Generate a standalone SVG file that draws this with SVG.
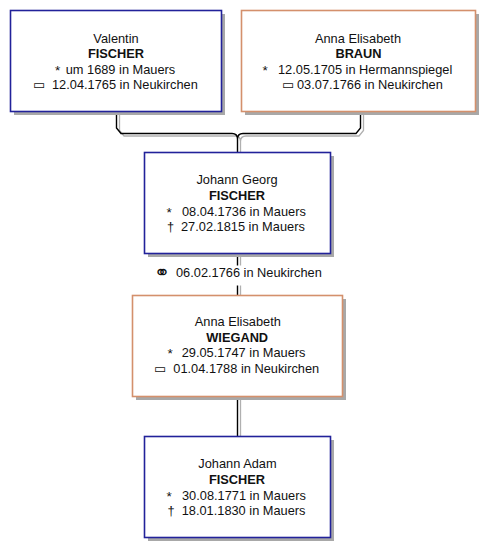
<svg xmlns="http://www.w3.org/2000/svg" width="495" height="558" viewBox="0 0 495 558">
<style>
text{font-family:"Liberation Sans",Arial,"DejaVu Sans",sans-serif;font-size:12.8px;fill:#111}
.c{text-anchor:middle}
.b{font-weight:bold}
.sym{font-family:"DejaVu Sans","Liberation Sans",sans-serif;font-size:13px}
.mar{font-family:"DejaVu Sans",sans-serif;font-size:19px}
.ast{font-size:13.5px}
.shadow{fill:#a8a8a8}
.box{fill:#fff;stroke-width:1.6}
.m{stroke:#22229a}
.f{stroke:#d4906c}
.ln{fill:none;stroke:#000;stroke-width:1.4}
.lg{fill:none;stroke:#b0b0b0;stroke-width:1.3}
</style>
<rect width="495" height="558" fill="#fff"/>
<g id="connectors">
<path class="lg" d="M119.5,112 V130.5 L124,136 H235 Q240.5,136 240.5,141.5 V152 M363.5,112 V130.5 L359,136 H246 Q240.5,136 240.5,141.5"/>
<path class="ln" d="M116.5,112 V128 L121,133.5 H232 Q237.5,133.5 237.5,139 V152 M360.5,112 V128 L356,133.5 H243 Q237.5,133.5 237.5,139"/>
<path class="lg" d="M240.5,254 V265.5 M240.5,285.5 V295 M240.5,397 V436"/>
<path class="ln" d="M237.5,254 V265.5 M237.5,285.5 V295 M237.5,397 V436"/>
<text class="mar" x="154" y="279">⚭</text>
<text x="176" y="277">06.02.1766 in Neukirchen</text>
</g>
<g id="valentin">
<rect class="shadow" x="14" y="14" width="211" height="101"/>
<rect class="box m" x="10.5" y="10.5" width="211" height="101"/>
<text class="c" x="116" y="42.5">Valentin</text>
<text class="c b" x="116" y="58">FISCHER</text>
<text class="ast" x="55" y="75">*</text>
<text x="65.7" y="74">um 1689 in Mauers</text>
<text class="sym" x="33" y="89">▭</text>
<text x="52" y="89">12.04.1765 in Neukirchen</text>
</g>
<g id="braun">
<rect class="shadow" x="245" y="14" width="234" height="101"/>
<rect class="box f" x="241.5" y="10.5" width="234" height="101"/>
<text class="c" x="358" y="42.5">Anna Elisabeth</text>
<text class="c b" x="358.5" y="58">BRAUN</text>
<text class="ast" x="262.5" y="75">*</text>
<text x="278" y="74">12.05.1705 in Hermannspiegel</text>
<text class="sym" x="282" y="89">▭</text>
<text x="297" y="89">03.07.1766 in Neukirchen</text>
</g>
<g id="johann-georg">
<rect class="shadow" x="148" y="156" width="186" height="101"/>
<rect class="box m" x="144.5" y="152.5" width="186" height="101"/>
<text class="c" x="237" y="184">Johann Georg</text>
<text class="c b" x="237" y="199.5">FISCHER</text>
<text class="ast" x="166.5" y="216.5">*</text>
<text x="182" y="215.5">08.04.1736 in Mauers</text>
<text x="167" y="230.5">†</text>
<text x="181" y="230.5">27.02.1815 in Mauers</text>
</g>
<g id="wiegand">
<rect class="shadow" x="136" y="299" width="210" height="101"/>
<rect class="box f" x="132.5" y="295.5" width="210" height="101"/>
<text class="c" x="237.8" y="326">Anna Elisabeth</text>
<text class="c b" x="237.2" y="341.5">WIEGAND</text>
<text class="ast" x="167.5" y="358">*</text>
<text x="181.7" y="357">29.05.1747 in Mauers</text>
<text class="sym" x="154" y="372.5">▭</text>
<text x="173.3" y="372.5">01.04.1788 in Neukirchen</text>
</g>
<g id="johann-adam">
<rect class="shadow" x="148" y="440" width="186" height="101"/>
<rect class="box m" x="144.5" y="436.5" width="186" height="101"/>
<text class="c" x="237.5" y="467.5">Johann Adam</text>
<text class="c b" x="237" y="483.5">FISCHER</text>
<text class="ast" x="166.5" y="500.5">*</text>
<text x="182" y="499.5">30.08.1771 in Mauers</text>
<text x="167.5" y="514.5">†</text>
<text x="181.7" y="514.5">18.01.1830 in Mauers</text>
</g>
</svg>
